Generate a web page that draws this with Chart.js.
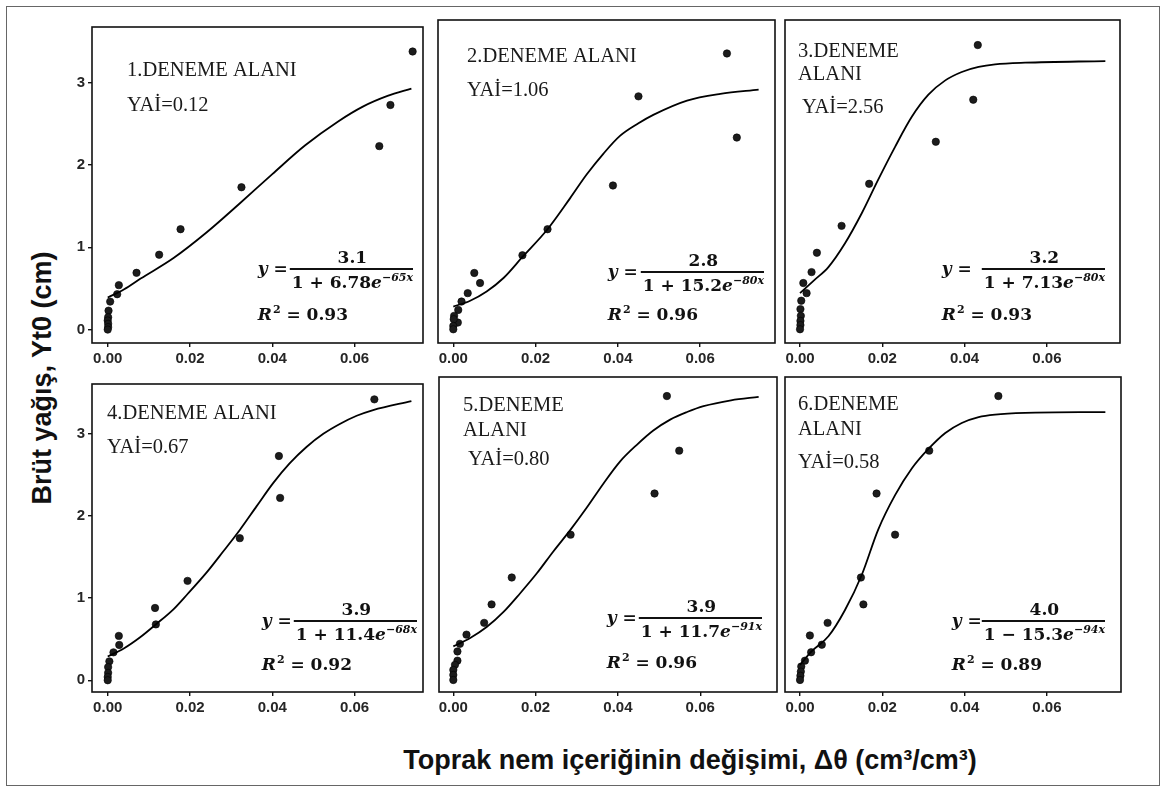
<!DOCTYPE html>
<html>
<head>
<meta charset="utf-8">
<script src="https://cdn.jsdelivr.net/npm/chart.js@4.4.1/dist/chart.umd.min.js"></script>
<style>
  html, body { margin: 0; padding: 0; background: #fff; }
  body { width: 1166px; height: 791px; position: relative; overflow: hidden; }
  #frame { position: absolute; left: 6px; top: 6px; width: 1154px; height: 780px;
           border: 1.5px solid #666; box-sizing: border-box; }
  canvas { position: absolute; }
  .axis-title { position: absolute; font: bold 27px "Liberation Sans", Arial, sans-serif;
                color: #111; white-space: nowrap; transform: translate(-50%, -50%); }
  #yTitle { left: 42px; top: 378px; transform: translate(-50%, -50%) rotate(-90deg); }
  #xTitle { left: 690px; top: 760px; }
</style>
</head>
<body>
<div id="frame"></div>
<div id="yTitle" class="axis-title">Brüt yağış, Yt0 (cm)</div>
<div id="xTitle" class="axis-title">Toprak nem içeriğinin değişimi, Δθ (cm³/cm³)</div>

<script>
// ---- data ----
const panelTitles = [
  ['1.DENEME ALANI'], ['2.DENEME ALANI'], ['3.DENEME', 'ALANI'],
  ['4.DENEME ALANI'], ['5.DENEME', 'ALANI'], ['6.DENEME', 'ALANI']
];
const yaiValues = ['0.12', '1.06', '2.56', '0.67', '0.80', '0.58'];

// y = a / (1 ± b e^(-kx)), R²
const eqNumerators = ['3.1', '2.8', '3.2', '3.9', '3.9', '4.0'];
const eqSigns = ['+', '+', '+', '+', '+', '−'];
const eqCoefs = ['6.78', '15.2', '7.13', '11.4', '11.7', '15.3'];
const eqRates = ['65', '80', '80', '68', '91', '94'];
const r2Values = ['0.93', '0.96', '0.93', '0.92', '0.96', '0.89'];

const xTickValues = [0, 0.02, 0.04, 0.06];
const yTickValues = [0, 1, 2, 3];

// measured points (Δθ, gross rainfall)
const obsX = [
  [0.0741, 0.0687, 0.0660, 0.0325, 0.0177, 0.0125, 0.0070, 0.0027, 0.0023, 0.0006, 0.0002, 0.0001, 0.0000, 0.0001, 0.0001, 0.0000],
  [0.0665, 0.0450, 0.0689, 0.0388, 0.0229, 0.0168, 0.0051, 0.0065, 0.0035, 0.0020, 0.0012, 0.0002, 0.0011, 0.0001, 0.0000, 0.0000],
  [0.0432, 0.0421, 0.0330, 0.0168, 0.0101, 0.0041, 0.0028, 0.0008, 0.0016, 0.0003, 0.0001, 0.0002, 0.0001, 0.0001, 0.0000],
  [0.0648, 0.0416, 0.0419, 0.0321, 0.0194, 0.0115, 0.0117, 0.0027, 0.0028, 0.0014, 0.0004, 0.0001, 0.0001, 0.0000, 0.0000],
  [0.0519, 0.0549, 0.0489, 0.0285, 0.0142, 0.0093, 0.0075, 0.0032, 0.0016, 0.0010, 0.0010, 0.0004, 0.0000, 0.0000, 0.0000],
  [0.0482, 0.0314, 0.0186, 0.0231, 0.0148, 0.0154, 0.0067, 0.0024, 0.0053, 0.0027, 0.0012, 0.0003, 0.0002, 0.0001, 0.0000]
];
const obsY = [
  [3.38, 2.73, 2.23, 1.73, 1.22, 0.91, 0.69, 0.54, 0.43, 0.34, 0.23, 0.15, 0.11, 0.07, 0.03, 0.00],
  [3.28, 2.77, 2.28, 1.71, 1.19, 0.88, 0.67, 0.55, 0.43, 0.33, 0.23, 0.16, 0.08, 0.12, 0.04, 0.00],
  [3.38, 2.73, 2.23, 1.73, 1.23, 0.91, 0.68, 0.55, 0.43, 0.34, 0.24, 0.16, 0.10, 0.05, 0.00],
  [3.42, 2.73, 2.22, 1.73, 1.21, 0.88, 0.68, 0.54, 0.43, 0.34, 0.23, 0.16, 0.09, 0.04, 0.00],
  [3.38, 2.73, 2.22, 1.73, 1.22, 0.90, 0.68, 0.54, 0.43, 0.34, 0.23, 0.18, 0.12, 0.06, 0.00],
  [3.38, 2.73, 2.22, 1.73, 1.22, 0.90, 0.68, 0.53, 0.42, 0.33, 0.23, 0.16, 0.10, 0.05, 0.00]
];

// fitted logistic curves
const fitX = [
  [0, 0.0040, 0.0080, 0.0160, 0.0240, 0.0320, 0.0400, 0.0480, 0.0560, 0.0620, 0.0680, 0.0738],
  [0, 0.0041, 0.0081, 0.0122, 0.0168, 0.0229, 0.0284, 0.0324, 0.0365, 0.0405, 0.0450, 0.0486, 0.0568, 0.0649, 0.0742],
  [0, 0.0036, 0.0069, 0.0109, 0.0150, 0.0190, 0.0231, 0.0272, 0.0312, 0.0353, 0.0393, 0.0434, 0.0474, 0.0547, 0.0742],
  [0, 0.0040, 0.0078, 0.0117, 0.0159, 0.0194, 0.0240, 0.0281, 0.0321, 0.0362, 0.0402, 0.0442, 0.0483, 0.0524, 0.0564, 0.0605, 0.0645, 0.0738],
  [0, 0.0041, 0.0081, 0.0122, 0.0162, 0.0203, 0.0243, 0.0285, 0.0324, 0.0365, 0.0405, 0.0446, 0.0486, 0.0527, 0.0568, 0.0608, 0.0675, 0.0742],
  [0, 0.0028, 0.0069, 0.0109, 0.0150, 0.0190, 0.0231, 0.0272, 0.0312, 0.0353, 0.0393, 0.0434, 0.0474, 0.0547, 0.0742]
];
const fitY = [
  [0.39, 0.49, 0.62, 0.87, 1.18, 1.53, 1.89, 2.24, 2.53, 2.71, 2.84, 2.93],
  [0.27, 0.34, 0.45, 0.61, 0.86, 1.19, 1.56, 1.84, 2.09, 2.30, 2.45, 2.55, 2.72, 2.80, 2.85],
  [0.43, 0.59, 0.74, 1.02, 1.38, 1.78, 2.17, 2.53, 2.79, 2.96, 3.06, 3.12, 3.15, 3.17, 3.19],
  [0.29, 0.39, 0.52, 0.68, 0.86, 1.05, 1.31, 1.57, 1.83, 2.12, 2.40, 2.64, 2.84, 3.00, 3.12, 3.22, 3.29, 3.40],
  [0.40, 0.50, 0.63, 0.81, 1.03, 1.27, 1.53, 1.79, 2.05, 2.34, 2.60, 2.80, 2.97, 3.10, 3.19, 3.26, 3.33, 3.37],
  [0.18, 0.34, 0.52, 0.83, 1.25, 1.79, 2.20, 2.52, 2.75, 2.94, 3.06, 3.13, 3.16, 3.18, 3.19]
];

// ---- layout (page pixels) ----
const panelBoxes = [
  { l: 92,  t: 20,  r: 423,  b: 343 }, { l: 438, t: 20,  r: 775,  b: 343 }, { l: 785, t: 20,  r: 1120, b: 343 },
  { l: 92,  t: 377, r: 423,  b: 692 }, { l: 439, t: 377, r: 777,  b: 692 }, { l: 785, t: 377, r: 1121, b: 692 }
];
const xRanges = [
  [-0.00382, 0.07662], [-0.00372, 0.07818], [-0.00365, 0.07776],
  [-0.00382, 0.07662], [-0.00348, 0.07866], [-0.00365, 0.07800]
];
const yRanges = [[-0.163, 3.678], [-0.143, 3.607]];
// text offsets inside each box: title x, title baselines, YAİ x/baseline, equation right/line/gap, R² baseline
const textPos = [
  { tx: 35, ty: [49],     yx: 35, yy: 84, er: 10, el: 74, eg: 2,  rb: 23 },
  { tx: 29, ty: [42],     yx: 29, yy: 76, er: 11, el: 71, eg: 3,  rb: 23 },
  { tx: 13, ty: [37, 60], yx: 17, yy: 93, er: 15, el: 74, eg: 10, rb: 23 },
  { tx: 15, ty: [35],     yx: 15, yy: 69, er: 6,  el: 71, eg: 2,  rb: 22 },
  { tx: 24, ty: [34, 59], yx: 29, yy: 88, er: 15, el: 74, eg: 2,  rb: 24 },
  { tx: 13, ty: [33, 58], yx: 13, yy: 91, er: 16, el: 71, eg: 0,  rb: 22 }
];

const PAD_L = 45, PAD_T = 5, PAD_R = 8, PAD_B = 30;
const serif = '"Liberation Serif", "Times New Roman", serif';
const mathFont = '"DejaVu Serif", serif';

// panel frame, labels and fitted equation
const panelDecor = {
  id: 'panelDecor',
  afterDraw(chart, args, opts) {
    const i = opts.index;
    const ctx = chart.ctx;
    const a = chart.chartArea;
    const tp = textPos[i];
    ctx.save();
    ctx.strokeStyle = '#111';
    ctx.lineWidth = 1.6;
    ctx.strokeRect(a.left, a.top, a.right - a.left, a.bottom - a.top);

    ctx.fillStyle = '#1a1a1a';
    ctx.textAlign = 'left';
    ctx.textBaseline = 'alphabetic';
    ctx.font = '20.5px ' + serif;
    panelTitles[i].forEach((line, k) => ctx.fillText(line, a.left + tp.tx, a.top + tp.ty[k]));
    ctx.fillText('YAİ=' + yaiValues[i], a.left + tp.yx, a.top + tp.yy);

    // equation
    const fB = 'bold 17px ' + mathFont;
    const fI = 'italic bold 17px ' + mathFont;
    const fS = 'italic bold 11px ' + mathFont;
    const right = a.right - tp.er;
    const lineY = a.bottom - tp.el;
    const parts = [
      { t: '1 ' + eqSigns[i] + ' ' + eqCoefs[i], f: fB, dy: 0 },
      { t: 'e', f: fI, dy: 0 },
      { t: '−' + eqRates[i] + 'x', f: fS, dy: -7 }
    ];
    let w = 0;
    parts.forEach(p => { ctx.font = p.f; p.w = ctx.measureText(p.t).width; w += p.w; });
    const left = right - w;
    let x = left;
    ctx.fillStyle = '#111';
    parts.forEach(p => { ctx.font = p.f; ctx.fillText(p.t, x, lineY + 19 + p.dy); x += p.w; });
    ctx.fillRect(left - 2, lineY - 1, w + 2, 2);
    ctx.font = fB;
    ctx.textAlign = 'center';
    ctx.fillText(eqNumerators[i], left + w / 2, lineY - 6);
    ctx.textAlign = 'left';

    ctx.font = fB;
    const eqW = ctx.measureText(' =').width;
    ctx.font = fI;
    const yW = ctx.measureText('y').width;
    const yLeft = left - 2 - tp.eg - eqW - yW;
    ctx.fillText('y', yLeft, lineY + 5);
    ctx.font = fB;
    ctx.fillText(' =', yLeft + yW, lineY + 5);

    // R²
    const rBase = a.bottom - tp.rb;
    ctx.font = fI;
    ctx.fillText('R', yLeft, rBase);
    let rx = yLeft + ctx.measureText('R').width;
    ctx.font = 'bold 11px ' + mathFont;
    ctx.fillText('2', rx + 1, rBase - 7);
    rx += ctx.measureText('2').width + 1;
    ctx.font = fB;
    ctx.fillText(' = ' + r2Values[i], rx, rBase);
    ctx.restore();
  }
};

panelBoxes.forEach((box, i) => {
  const cv = document.createElement('canvas');
  const W = box.r - box.l + PAD_L + PAD_R;
  const H = box.b - box.t + PAD_T + PAD_B;
  cv.width = W; cv.height = H;
  cv.style.left = (box.l - PAD_L) + 'px';
  cv.style.top = (box.t - PAD_T) + 'px';
  document.body.appendChild(cv);

  const leftCol = i % 3 === 0;
  const yr = yRanges[i < 3 ? 0 : 1];
  const tickFont = { family: '"Liberation Sans", Arial, sans-serif', size: 15, weight: 'bold' };

  new Chart(cv.getContext('2d'), {
    type: 'scatter',
    data: {
      datasets: [
        {
          type: 'line',
          data: fitX[i].map((x, k) => ({ x: x, y: fitY[i][k] })),
          borderColor: '#000',
          borderWidth: 1.8,
          pointRadius: 0,
          cubicInterpolationMode: 'monotone',
          fill: false
        },
        {
          data: obsX[i].map((x, k) => ({ x: x, y: obsY[i][k] })),
          pointRadius: 3.7,
          backgroundColor: '#1c1c1c',
          borderColor: '#000',
          borderWidth: 0.6
        }
      ]
    },
    options: {
      responsive: false,
      animation: false,
      devicePixelRatio: 1,
      layout: { padding: { left: 0, top: PAD_T, right: PAD_R, bottom: 0 } },
      plugins: { legend: { display: false }, tooltip: { enabled: false }, panelDecor: { index: i } },
      scales: {
        x: {
          type: 'linear',
          min: xRanges[i][0],
          max: xRanges[i][1],
          afterBuildTicks: s => { s.ticks = xTickValues.map(v => ({ value: v })); },
          afterFit: s => { s.height = PAD_B; },
          border: { display: false },
          grid: { drawOnChartArea: false, drawTicks: true, tickLength: 4, color: '#111', lineWidth: 1.4 },
          ticks: { callback: v => v.toFixed(2), font: tickFont, color: '#262626', padding: 3, maxRotation: 0 }
        },
        y: {
          type: 'linear',
          min: yr[0],
          max: yr[1],
          afterBuildTicks: s => { s.ticks = yTickValues.map(v => ({ value: v })); },
          afterFit: s => { s.width = PAD_L; },
          border: { display: false },
          grid: { drawOnChartArea: false, drawTicks: leftCol, tickLength: 4, color: '#111', lineWidth: 1.4 },
          ticks: { display: leftCol, font: tickFont, color: '#262626', padding: 3 }
        }
      }
    },
    plugins: [panelDecor]
  });
});
</script>
</body>
</html>
